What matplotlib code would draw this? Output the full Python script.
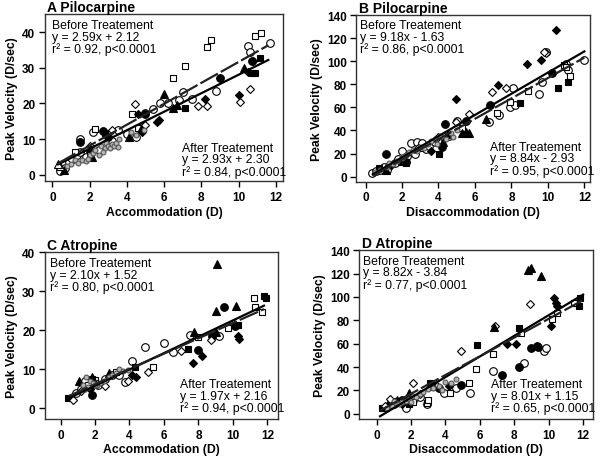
import matplotlib
matplotlib.use('Agg')
import matplotlib.pyplot as plt
import numpy as np

plt.rcParams['font.family'] = ['Liberation Sans', 'DejaVu Sans']

# ---- panel A: Pilocarpine, accommodation ----
a_oc = [(0.4,1.0),(0.7,2.0),(0.9,3.5),(1.1,4.5),(1.3,5.5),(1.5,6.3),(1.5,10.0),(1.8,5.0),(2.2,12.0),
        (2.5,7.0),(2.8,8.5),(3.2,9.5),(3.5,12.5),(4.0,11.5),(4.5,10.5),(4.8,13.5),(5.0,17.4),(5.4,18.5),
        (5.8,20.2),(6.2,20.0),(6.8,21.0),(7.0,23.2),(7.5,21.3),(8.8,23.5),(10.5,36.2),(10.6,34.5),(11.7,36.8)]
a_fc = [(1.5,9.3),(2.7,12.3),(5.0,17.1),(9.0,27.0),(10.7,32.0),(3.0,10.5)]
a_os = [(1.2,6.5),(2.3,12.8),(2.0,6.0),(4.3,17.1),(6.5,27.0),(7.1,30.6),(8.3,35.8),(8.5,37.7),
        (10.86,39.0),(11.2,39.6),(4.6,13.0)]
a_fs = [(7.1,18.8),(10.7,28.6),(10.9,28.5),(11.15,32.7),(2.8,11.8)]
a_od = [(4.44,19.9),(7.8,19.3),(8.3,19.3),(10.1,20.4),(10.6,23.9),(3.2,12.5),(5.0,14.0),(1.0,4.5),(2.0,8.0)]
a_fd = [(4.6,17.1),(5.6,14.8),(5.75,15.3),(8.2,21.1),(10.0,22.3),(10.5,28.8),(10.8,31.8),(4.8,12.0)]
a_ft = [(0.6,1.4),(2.0,7.4),(2.1,5.0),(4.1,10.6),(4.75,12.8),(5.97,22.7),(6.5,18.6),(6.7,19.5),(10.3,30.0)]
a_ot = [(0.4,2.5),(0.3,3.0)]
a_gr = [(0.8,2.5),(1.0,3.0),(1.2,4.0),(1.4,3.2),(1.6,4.0),(1.8,3.8),(2.0,5.5),(2.2,6.0),(2.3,7.0),
        (2.5,5.5),(2.6,8.0),(2.8,7.5),(2.9,9.0),(3.0,8.0),(3.1,7.5),(3.2,8.5),(3.3,8.1),(3.4,9.0),
        (3.5,7.8),(2.7,6.5),(1.9,4.5),(4.2,12.0),(4.5,11.0),(4.9,12.5),(3.6,10.0)]

# ---- panel B: Pilocarpine, disaccommodation ----
b_oc = [(0.35,2.9),(0.55,4.5),(0.8,6.0),(1.0,8.5),(1.3,9.0),(1.6,12),(1.8,15),(2.0,22.5),(2.3,18),
        (2.5,29.5),(2.85,30),(3.1,29),(3.3,24),(3.5,27),(3.8,30),(4.0,32),(4.3,34),(4.6,35),(5.0,48),
        (6.75,47),(7.3,53),(7.9,60),(8.2,62),(8.1,77),(9.5,72),(9.7,82),(9.9,108),(11.0,98),(11.1,92),
        (12.0,101),(2.7,20),(1.2,6)]
b_fc = [(1.15,20),(4.38,45.5),(6.84,62),(10.2,90),(2.2,13),(4.2,26),(5.5,48)]
b_os = [(7.2,55),(7.9,65),(8.9,74),(10.9,97),(11.2,87),(11.0,95),(5.3,42),(3.0,25)]
b_fs = [(0.73,7.2),(4.03,20),(8.45,64),(10.55,77),(11.1,82),(2.2,12)]
b_od = [(4.98,47),(5.7,54),(6.95,73),(7.7,77),(9.9,107),(9.8,108),(4.0,34),(2.9,25)]
b_fd = [(4.98,67),(7.26,79),(8.87,98),(9.6,101),(10.46,127),(1.4,10),(3.6,22)]
b_ft = [(5.3,38),(5.5,39),(5.7,38),(6.6,50),(4.25,30),(4.5,37),(1.1,6),(2.0,14)]
b_ot = []
b_gr = [(0.5,4),(0.8,6),(1.2,8),(1.5,11),(1.7,14),(2.0,16),(2.2,19),(2.4,21),(2.6,23),(2.8,22),
        (3.0,26),(3.2,25),(3.4,28),(3.6,31),(3.8,33),(4.1,35),(4.4,33),(4.7,38),(5.0,40),(2.1,18),
        (1.3,12),(3.9,28),(4.8,34)]

# ---- panel C: Atropine, accommodation ----
c_oc = [(0.9,4),(1.2,5),(1.5,6),(2.2,6),(2.6,7.5),(3.4,8.6),(3.76,6.8),(4.15,12.2),(4.87,15.6),
        (6.0,16.7),(6.5,14.3),(7.5,18.8),(9.2,18.4),(10.0,21.6),(1.4,7),(3.0,8.5)]
c_fc = [(1.8,3.4),(7.95,15.0),(8.8,18.6),(9.5,25.9),(10.1,21),(1.7,5.5)]
c_os = [(2.0,7.3),(5.35,10.6),(8.0,18.3),(9.7,20.6),(11.2,28.2),(11.3,26),(11.7,24.8),(1.6,6),(3.2,9.2)]
c_fs = [(0.43,2.6),(4.3,10.5),(7.4,15.2),(10.3,21.4),(11.8,28.7),(1.8,7.5),(11.9,28.3)]
c_od = [(0.7,2),(2.6,5.7),(3.9,7),(5.1,9.2),(7.0,14.6),(8.75,17.5),(1.2,4.5),(2.1,6.3)]
c_fd = [(4.15,8.6),(4.4,8.0),(7.66,11.7),(8.2,13.3),(10.3,18.6),(10.35,17.8),(1.7,5)]
c_ft = [(1.06,7),(1.8,7.9),(2.84,8.9),(7.76,19.5),(9.0,24.9),(9.1,37),(10.2,26.1),(9.0,19.5)]
c_ot = []
c_gr = [(1.3,6),(1.5,8),(1.6,5.5),(1.7,7),(1.9,6.5),(2.1,5.8),(2.3,6.5),(2.5,7),(2.8,8),(3.0,8.5),
        (3.2,9),(3.4,10),(3.6,9.5),(1.4,4.8),(2.0,6),(3.9,9.8)]

# ---- panel D: Atropine, disaccommodation ----
d_oc = [(0.6,6),(1.0,8),(1.7,5),(2.1,12),(2.94,8.8),(3.9,18),(4.6,22),(5.45,18),(6.77,37),(8.55,43.5),
        (9.7,54),(9.85,56),(1.3,10),(2.5,14),(3.3,24)]
d_fc = [(0.8,8.8),(1.5,12),(3.62,22),(4.93,25),(7.3,33),(8.26,40),(9.0,56),(9.3,58),(9.4,57)]
d_os = [(2.1,10),(2.9,9),(3.0,12),(4.25,18),(5.36,26),(5.75,38),(6.77,51),(8.4,69),(10.2,81),
        (10.5,86),(11.45,95),(1.8,11)]
d_fs = [(0.3,5),(1.2,11),(3.1,26),(5.85,59),(8.3,73),(11.75,92),(11.85,99),(1.9,8)]
d_od = [(0.5,7),(0.8,13),(2.1,26),(4.9,54),(6.9,75),(8.9,94),(1.4,10),(2.5,17),(3.5,24)]
d_fd = [(1.5,8),(3.6,22),(4.2,24),(7.55,60),(8.1,60),(10.15,75),(10.3,99),(10.4,95),(10.5,92)]
d_ft = [(1.2,12),(1.9,18),(6.8,74),(8.8,123),(9.0,125),(9.57,118),(3.3,24)]
d_ot = []
d_gr = [(0.6,5),(0.9,7),(1.1,9),(1.3,8),(1.5,10),(1.7,11),(1.9,13),(2.1,15),(2.3,14),(2.5,17),
        (2.7,19),(3.0,21),(3.3,22),(3.6,24),(4.0,27),(4.6,30),(1.0,11),(2.0,10),(4.3,26),(3.8,20)]

titles = ['A Pilocarpine', 'B Pilocarpine', 'C Atropine', 'D Atropine']
xlabels = ['Accommodation (D)', 'Disaccommodation (D)', 'Accommodation (D)', 'Disaccommodation (D)']
before_fit = [(2.59, 2.12), (9.18, -1.63), (2.10, 1.52), (8.82, -3.84)]
after_fit = [(2.93, 2.30), (8.84, -2.93), (1.97, 2.16), (8.01, 1.15)]
before_txt = ['Before Treatement\ny = 2.59x + 2.12\nr² = 0.92, p<0.0001',
              'Before Treatement\ny = 9.18x - 1.63\nr² = 0.86, p<0.0001',
              'Before Treatement\ny = 2.10x + 1.52\nr² = 0.80, p<0.0001',
              'Before Treatement\ny = 8.82x - 3.84\nr² = 0.77, p<0.0001']
after_txt = ['After Treatement\ny = 2.93x + 2.30\nr² = 0.84, p<0.0001',
             'After Treatement\ny = 8.84x - 2.93\nr² = 0.95, p<0.0001',
             'After Treatement\ny = 1.97x + 2.16\nr² = 0.94, p<0.0001',
             'After Treatement\ny = 8.01x + 1.15\nr² = 0.65, p<0.0001']
fit_range = [(0.3, 11.6), (0.4, 12.0), (0.5, 11.8), (0.2, 12.0)]
yticks = [[0, 10, 20, 30, 40], [0, 20, 40, 60, 80, 100, 120, 140],
          [0, 10, 20, 30, 40], [0, 20, 40, 60, 80, 100, 120, 140]]

panels = [
    [a_oc, a_fc, a_os, a_fs, a_od, a_fd, a_ft, a_ot, a_gr],
    [b_oc, b_fc, b_os, b_fs, b_od, b_fd, b_ft, b_ot, b_gr],
    [c_oc, c_fc, c_os, c_fs, c_od, c_fd, c_ft, c_ot, c_gr],
    [d_oc, d_fc, d_os, d_fs, d_od, d_fd, d_ft, d_ot, d_gr],
]
# marker, face colour, size for each series slot
styles = [('o', 'white', 5.5), ('o', 'black', 5.5), ('s', 'white', 5), ('s', 'black', 5),
          ('D', 'white', 4.5), ('D', 'black', 4.5), ('^', 'black', 5.5), ('^', 'white', 5.5),
          ('o', '#b5b5b5', 3.5)]

boxes = [[0.075, 0.604, 0.397, 0.363], [0.594, 0.603, 0.389, 0.362],
         [0.075, 0.087, 0.388, 0.364], [0.599, 0.087, 0.390, 0.368]]
xlims = [(-0.4, 12.4), (-0.5, 12.3), (-0.9, 12.6), (-1.0, 12.6)]
ylims = [(-1.8, 45), (-4.3, 140), (-2.8, 40.2), (-4.4, 140.4)]
before_pos = [(0.028, 0.97), (0.014, 0.975), (0.021, 0.966), (0.015, 0.97)]
after_pos = [(0.574, 0.02), (0.571, 0.03), (0.58, 0.03), (0.562, 0.03)]

fig = plt.figure(figsize=(6, 4.6), dpi=100)
for i in range(4):
    ax = fig.add_axes(boxes[i])
    for pts, (m, fc, ms) in zip(panels[i], styles):
        if not pts:
            continue
        xs, ys = zip(*pts)
        ec = '#555555' if fc == '#b5b5b5' else 'black'
        ax.plot(xs, ys, linestyle='none', marker=m, markersize=ms, markerfacecolor=fc,
                markeredgecolor=ec, markeredgewidth=0.8, zorder=2)
    xx = np.array(fit_range[i])
    k, b = before_fit[i]
    ax.plot(xx, k * xx + b, color='black', lw=1.6, zorder=3)
    k, b = after_fit[i]
    ax.plot(xx, k * xx + b, color='#222222', lw=1.6, dashes=(9, 1.5), zorder=3)

    ax.set_xlim(xlims[i])
    ax.set_ylim(ylims[i])
    ax.set_xticks([0, 2, 4, 6, 8, 10, 12])
    ax.set_yticks(yticks[i])
    ax.tick_params(direction='out', length=4, width=1, labelsize=8.5, pad=3)
    for lab in ax.get_xticklabels() + ax.get_yticklabels():
        lab.set_fontweight('bold')
    for sp in ax.spines.values():
        sp.set_linewidth(1.0)
        sp.set_color('#333333')
    ax.set_xlabel(xlabels[i], fontsize=8.8, fontweight='bold', labelpad=2)
    ax.set_ylabel('Peak Velocity (D/sec)', fontsize=8.8, fontweight='bold', labelpad=3)
    ax.set_title(titles[i], loc='left', fontsize=10, fontweight='bold', pad=2, x=0.01)
    ax.text(*before_pos[i], before_txt[i], transform=ax.transAxes, ha='left', va='top',
            fontsize=8.8, linespacing=0.95, zorder=4)
    ax.text(*after_pos[i], after_txt[i], transform=ax.transAxes, ha='left', va='bottom',
            fontsize=8.8, linespacing=0.95, zorder=4)

fig.savefig('out.png', dpi=100)
